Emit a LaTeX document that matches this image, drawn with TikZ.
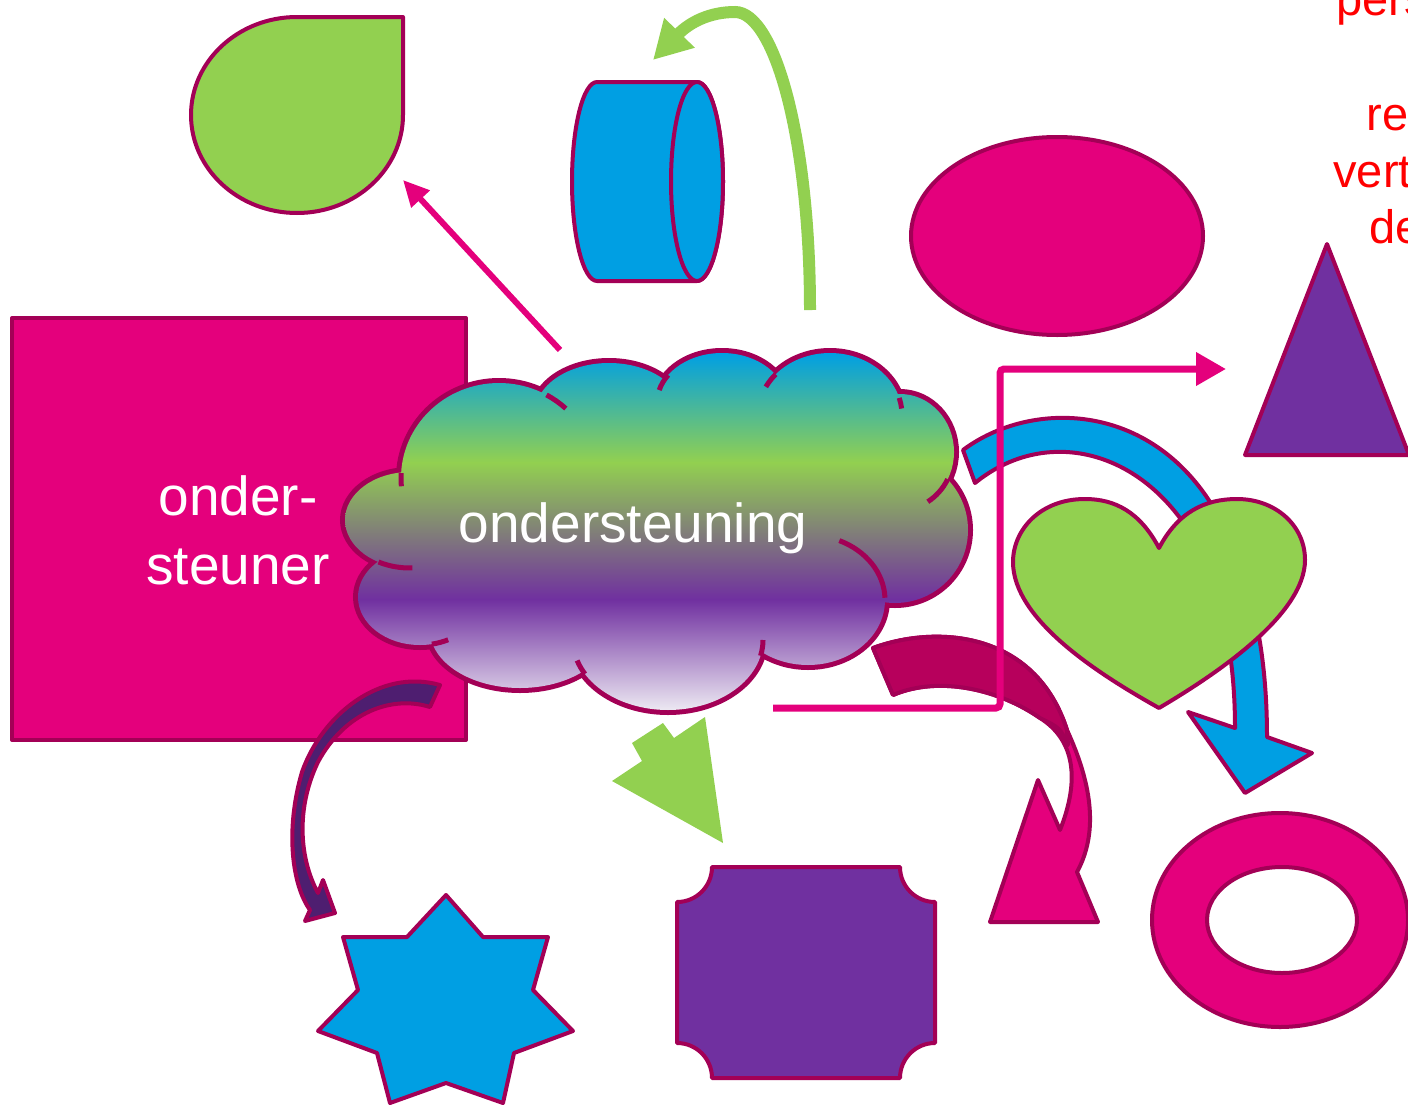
\documentclass[tikz,border=0pt]{standalone}
\usepackage{fontspec}
\setmainfont{Liberation Sans}
\usetikzlibrary{arrows.meta}

\definecolor{pinkfill}{RGB}{228,0,124}
\definecolor{edgecol}{RGB}{163,0,86}
\definecolor{greenfill}{RGB}{146,208,80}
\definecolor{bluefill}{RGB}{0,159,227}
\definecolor{purplefill}{RGB}{112,48,160}
\definecolor{darkpink}{RGB}{183,0,92}
\definecolor{darkpurple}{RGB}{78,30,112}
\definecolor{cloudbot}{RGB}{236,232,242}

\pgfdeclareverticalshading{cloudfill}{100bp}{color(0bp)=(cloudbot); color(25bp)=(cloudbot);
  color(40.5bp)=(purplefill); color(59.7bp)=(greenfill); color(75bp)=(bluefill); color(100bp)=(bluefill)}

% lobes of the cloud: centre x / centre y / x radius / y radius
\def\cloudlobes{499/478/98/95, 609/413/74/50, 722/403/65/50, 830/415/72/62, 900/452/54/58,
  895/530/73/73, 808/600/77/65, 668/640/95/70, 520/630/90/58, 420/597/62/48, 410/520/65/48}

\begin{document}
\begin{tikzpicture}[x=.5pt,y=-.5pt,
	edge/.style={draw=edgecol,line width=2pt,line join=round},
	bigtext/.style={text=white,font=\fontsize{27.5}{34.5}\selectfont,inner sep=0pt},
	redtext/.style={text=red,font=\fontsize{23.5}{28}\selectfont,inner sep=0pt,anchor=base west}]
	\useasboundingbox (0,0) rectangle (1408,1108);
	\clip (0,0) rectangle (1408,1108);

	% square
	\draw [edge,fill=pinkfill] (12,318) rectangle (466,740);
	\node [bigtext,align=center] (supporter) at (238,530) {onder-\\steuner};

	% cloud
	\foreach \cx/\cy/\rx/\ry in \cloudlobes
		\draw [edgecol,line width=5pt] (\cx,\cy) ellipse [x radius=\rx, y radius=\ry];
	\shade [shading=cloudfill] (650,530) ellipse [x radius=200, y radius=120]
		(790,510) ellipse [x radius=100, y radius=75]
		foreach \cx/\cy/\rx/\ry in \cloudlobes {(\cx,\cy) ellipse [x radius=\rx, y radius=\ry]};
	\foreach \cx/\cy/\rx/\ry/\a/\b in {499/478/98/95/183/175, 499/478/98/95/299/313,
		722/403/65/50/214/195, 830/415/72/62/221/207, 830/415/72/62/344/354, 900/452/54/58/28/59,
		808/600/77/65/294/358, 668/640/95/70/13/0, 668/640/95/70/151/163, 420/597/62/48/79/63,
		410/520/65/48/119/88}
		\draw [edgecol,line width=2.5pt] ({\cx+\rx*cos(\a)},{\cy+\ry*sin(\a)})
			arc [start angle=\a, end angle=\b, x radius=\rx, y radius=\ry];
	\node [bigtext,anchor=base] (support) at (633,542) {ondersteuning};

	% purple curved arrow
	\draw [edge,fill=darkpurple] (440,685) .. controls (380,668) and (322,715) .. (302,772)
		.. controls (285,830) and (292,885) .. (310,910) -- (305,921) -- (335,913) -- (323,880) -- (318,893)
		.. controls (300,860) and (295,810) .. (318,762) .. controls (345,712) and (392,695) .. (430,707) -- cycle;

	% drop
	\draw [edge,fill=greenfill] (403,17) -- (403,115) arc [start angle=0, end angle=270, x radius=106, y radius=98] -- cycle;

	% cylinder
	\draw [edge,fill=bluefill] (697,82) -- (597,82) arc [start angle=270, end angle=90, x radius=25, y radius=99.5]
		-- (697,281) arc [start angle=90, end angle=-90, x radius=26, y radius=99.5] -- cycle;
	\draw [edge,fill=bluefill] (697,181.5) ellipse [x radius=26, y radius=99.5];

	% green curved arrow
	\coordinate (greenstart) at (810,310);
	\coordinate (greenend) at (653,60);
	\draw [greenfill,line width=6pt,-{Triangle[length=19pt,width=20pt]}] (greenstart)
		.. controls (810,140) and (775,12) .. (735,12) .. controls (710,12) and (690,22) .. (greenend);

	% straight arrow to the drop
	\coordinate (cloudtop) at (560,350);
	\coordinate (droptip) at (403,180);
	\draw [pinkfill,line width=3pt,-{Triangle[length=13pt,width=12pt]}] (cloudtop) -- (droptip);

	% ellipse and triangle
	\draw [edge,fill=pinkfill] (1057,236) ellipse [x radius=146, y radius=99];
	\draw [edge,fill=purplefill] (1327,244) -- (1409,455) -- (1245,455) -- cycle;

	% blue curved arrow
	\draw [edge,fill=bluefill] (963,450) .. controls (1030,400) and (1150,400) .. (1215,510)
		.. controls (1255,580) and (1267,660) .. (1267,737) -- (1312,753) -- (1245,793) -- (1188,712) -- (1235,728)
		.. controls (1235,650) and (1220,580) .. (1185,525) .. controls (1130,445) and (1040,430) .. (975,483) -- cycle;

	% magenta curved arrow
	\draw [edge,fill=pinkfill] (873,648) .. controls (935,625) and (1035,630) .. (1067,730)
		.. controls (1090,780) and (1100,830) .. (1077,872) -- (1098,922) -- (990,922) -- (1038,780) -- (1060,830)
		.. controls (1080,780) and (1075,740) .. (1040,718) .. controls (1000,690) and (940,675) .. (893,695) -- cycle;
	\draw [edge,fill=darkpink] (873,648) .. controls (935,625) and (1035,630) .. (1067,730) -- (1068,745)
		.. controls (1060,728) .. (1040,718) .. controls (1000,690) and (940,675) .. (893,695) -- cycle;

	% elbow connector
	\coordinate (elbowstart) at (773,708);
	\coordinate (elbowend) at (1226,369);
	\draw [pinkfill,line width=3.5pt,rounded corners=2pt,-{Triangle[length=15pt,width=16pt]}]
		(elbowstart) -- (1000,708) -- (1000,369) -- (elbowend);

	% heart
	\draw [edge,fill=greenfill] (1159,548) .. controls (1140,512) and (1115,499) .. (1085,499)
		.. controls (1040,499) and (1013,530) .. (1013,562) .. controls (1013,620) and (1100,675) .. (1159,708)
		.. controls (1215,675) and (1305,615) .. (1305,560) .. controls (1305,525) and (1275,499) .. (1237,499)
		.. controls (1205,499) and (1178,512) .. (1159,548) -- cycle;

	% green block arrow
	\fill [greenfill] (632,743) -- (663,723) -- (674,738) -- (705,717) -- (723,843) -- (612,781) -- (642,761) -- cycle;

	% star
	\draw [edge,fill=bluefill] (446,895) -- (483,937) -- (548,937) -- (533,990) -- (573,1031) -- (514,1053)
		-- (503,1103) -- (446,1083) -- (390,1103) -- (377,1053) -- (318,1031) -- (358,990) -- (343,937)
		-- (407,937) -- cycle;

	% plaque
	\draw [edge,fill=purplefill] (712,867) -- (900,867) arc [start angle=180, end angle=90, radius=35]
		-- (935,1043) arc [start angle=270, end angle=180, radius=35]
		-- (712,1078) arc [start angle=0, end angle=-90, radius=35]
		-- (677,902) arc [start angle=90, end angle=0, radius=35] -- cycle;

	% ring
	\draw [edge,fill=pinkfill,even odd rule] (1280,920) ellipse [x radius=128, y radius=107]
		(1282,920) ellipse [x radius=75, y radius=53];

	% red text at the edge
	\node [redtext] (line1) at (1336,16) {pers};
	\node [redtext] (line2) at (1366,130) {re};
	\node [redtext] (line3) at (1333,187) {vert};
	\node [redtext] (line4) at (1369,243) {de};
\end{tikzpicture}
\end{document}
